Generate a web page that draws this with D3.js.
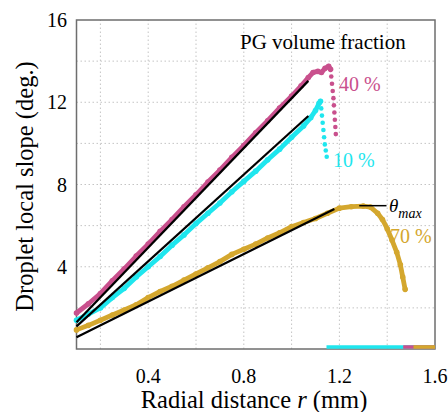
<!DOCTYPE html>
<html><head><meta charset="utf-8">
<script src="https://cdn.jsdelivr.net/npm/d3@7/dist/d3.min.js"></script>
<style>body{margin:0;background:#fff}svg{display:block}text{font-family:"Liberation Serif","Times New Roman",serif}</style>
</head><body><svg id="c" width="448" height="412"></svg>
<script>
// ---- data ----
const xTicks = [0.4, 0.8, 1.2, 1.6];
const yTicks = [4, 8, 12, 16];
const xGrid = [0.2, 0.4, 0.6, 0.8, 1.0, 1.2, 1.4];
const yGrid = [2, 4, 6, 8, 10, 12, 14];

const pg40Rise = [[0.1,1.75],[0.15,2.2],[0.2,2.7],[0.25,3.32],[0.3,3.9],[0.35,4.52],[0.4,5.1],[0.45,5.72],[0.5,6.3],[0.55,6.92],[0.6,7.5],[0.65,8.12],[0.7,8.7],[0.75,9.32],[0.8,9.9],[0.85,10.52],[0.9,11.1],[0.95,11.72],[1.0,12.3],[1.04,12.8],[1.07,13.2],[1.09,13.45],[1.11,13.5],[1.125,13.45],[1.14,13.65],[1.155,13.75],[1.163,13.6]];
const pg40Drop = [[1.166,13.25],[1.169,12.9],[1.172,12.55],[1.175,12.2],[1.177,11.85],[1.179,11.5],[1.181,11.15],[1.183,10.8],[1.185,10.45]];
const pg10Rise = [[0.1,1.4],[0.15,1.7],[0.2,2.0],[0.25,2.5],[0.3,2.95],[0.35,3.5],[0.4,4.0],[0.45,4.5],[0.5,5.05],[0.55,5.55],[0.6,6.1],[0.65,6.6],[0.7,7.1],[0.75,7.65],[0.8,8.15],[0.85,8.65],[0.9,9.2],[0.95,9.72],[1.0,10.3],[1.05,10.85],[1.08,11.25],[1.1,11.6],[1.115,11.95],[1.121,12.05]];
const pg10Drop = [[1.124,11.7],[1.127,11.35],[1.13,11.0],[1.133,10.65],[1.136,10.3],[1.139,9.95],[1.143,9.65],[1.147,9.35]];
const pg70Rise = [[0.1,0.93],[0.15,1.15],[0.2,1.4],[0.25,1.65],[0.3,1.9],[0.35,2.15],[0.4,2.5],[0.45,2.8],[0.5,3.05],[0.55,3.35],[0.6,3.65],[0.65,3.95],[0.7,4.25],[0.75,4.6],[0.8,4.85],[0.85,5.1],[0.9,5.4],[0.95,5.65],[1.0,5.95],[1.05,6.15],[1.1,6.35],[1.15,6.6],[1.2,6.85],[1.25,6.92],[1.3,6.95],[1.33,6.9],[1.36,6.6],[1.38,6.3],[1.4,5.85],[1.42,5.3],[1.44,4.7],[1.455,4.1],[1.465,3.5],[1.475,2.9]];
const fit40 = [[0.1,1.3],[1.07,13.04]];
const fit10 = [[0.1,1.1],[1.07,11.33]];
const fit70 = [[0.1,0.57],[1.179,6.81]];
const zeroTails = [["pg10",1.146,1.6],["pg40",1.467,1.6],["pg70",1.51,1.6]];
const thetaMark = [[1.283,6.97],[1.397,6.97]];
const colors = {pg10:"#1fe6ee", pg40:"#c9508d", pg70:"#d4a72e"};

// ---- chart ----
const svg = d3.select("#c");
const x = d3.scaleLinear().domain([0.1,1.6]).range([76.5,435]);
const y = d3.scaleLinear().domain([0,16]).range([349,20]);
const line = d3.line().x(d=>x(d[0])).y(d=>y(d[1]));

// grid
svg.append("g").selectAll("line").data(xGrid).join("line")
  .attr("x1",d=>x(d)).attr("x2",d=>x(d)).attr("y1",y(0)).attr("y2",y(16))
  .attr("stroke","#c4c4c4").attr("stroke-width",1).attr("stroke-dasharray","1.5,2.5");
svg.append("g").selectAll("line").data(yGrid).join("line")
  .attr("y1",d=>y(d)).attr("y2",d=>y(d)).attr("x1",x(0.1)).attr("x2",x(1.6))
  .attr("stroke","#c4c4c4").attr("stroke-width",1).attr("stroke-dasharray","1.5,2.5");

// frame
svg.append("rect").attr("x",x(0.1)).attr("y",y(16)).attr("width",x(1.6)-x(0.1)).attr("height",y(0)-y(16))
  .attr("fill","none").attr("stroke","#6e6e6e").attr("stroke-width",1.5);

// curves
function series(rise, drop, col){
  svg.append("path").datum(rise).attr("d",line).attr("fill","none")
    .attr("stroke",col).attr("stroke-width",4.8).attr("stroke-linejoin","round").attr("stroke-linecap","round");
  svg.append("g").selectAll("circle").data(rise).join("circle")
    .attr("cx",d=>x(d[0])).attr("cy",d=>y(d[1])).attr("r",2.8).attr("fill",col);
  if (drop) svg.append("g").selectAll("circle").data(drop).join("circle")
    .attr("cx",d=>x(d[0])).attr("cy",d=>y(d[1])).attr("r",2.3).attr("fill",col);
}
series(pg70Rise, null, colors.pg70);
series(pg10Rise, pg10Drop, colors.pg10);
series(pg40Rise, pg40Drop, colors.pg40);

// zero tails
svg.append("g").selectAll("line").data(zeroTails).join("line")
  .attr("x1",d=>x(d[1])).attr("x2",d=>x(d[2])).attr("y1",y(0)-2).attr("y2",y(0)-2)
  .attr("stroke",d=>colors[d[0]]).attr("stroke-width",3.5);

// fits
[fit40,fit10,fit70].forEach(f=>svg.append("path").datum(f).attr("d",line).attr("stroke","#000").attr("stroke-width",2.2).attr("fill","none"));
svg.append("path").datum(thetaMark).attr("d",line).attr("stroke","#000").attr("stroke-width",1.5).attr("fill","none");

// ticks
svg.append("g").selectAll("text").data(xTicks).join("text")
  .attr("x",d=>x(d)).attr("y",383).attr("text-anchor","middle").attr("font-size",20).text(d=>d.toFixed(1));
svg.append("g").selectAll("text").data(yTicks).join("text")
  .attr("x",67).attr("y",d=>y(d)).attr("dy","0.35em").attr("text-anchor","end").attr("font-size",20).text(d=>d);

// axis labels
const xl = svg.append("text").attr("x",254).attr("y",407.5).attr("text-anchor","middle").attr("font-size",24.5);
xl.append("tspan").text("Radial distance ");
xl.append("tspan").attr("font-style","italic").text("r");
xl.append("tspan").text(" (mm)");
svg.append("text").attr("transform","translate(33,186.5) rotate(-90)").attr("text-anchor","middle")
  .attr("font-size",24.5).text("Droplet local slope (deg.)");

// annotations
svg.append("text").attr("x",240).attr("y",49).attr("font-size",21).text("PG volume fraction");
svg.append("text").attr("x",339).attr("y",91).attr("font-size",20).attr("fill",colors.pg40).text("40 %");
svg.append("text").attr("x",333).attr("y",167).attr("font-size",20).attr("fill",colors.pg10).text("10 %");
svg.append("text").attr("x",390).attr("y",243).attr("font-size",20).attr("fill",colors.pg70).text("70 %");
const th = svg.append("text").attr("x",389).attr("y",211.5).attr("font-size",19).attr("font-style","italic");
th.append("tspan").text("θ");
th.append("tspan").attr("font-size",14).attr("dy",6.5).text("max");
</script></body></html>
